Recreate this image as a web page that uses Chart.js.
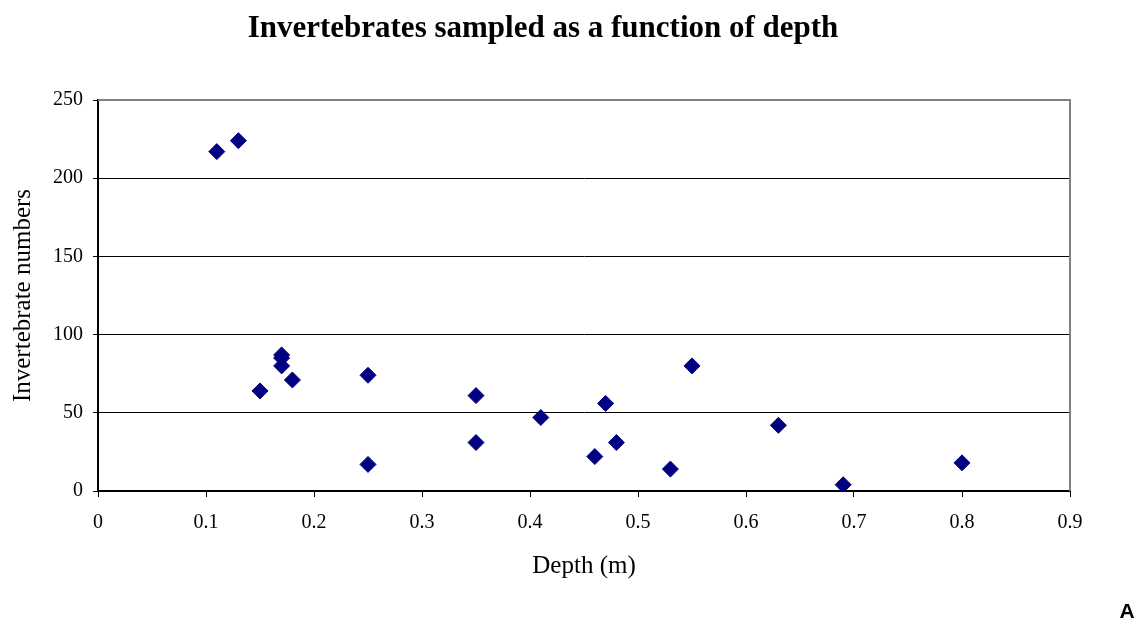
<!DOCTYPE html>
<html>
<head>
<meta charset="utf-8">
<script src="https://cdn.jsdelivr.net/npm/chart.js@4/dist/chart.umd.min.js"></script>
<style>
  html, body { margin: 0; padding: 0; background: #fff; }
  #wrap { width: 1144px; height: 630px; position: relative; }
</style>
</head>
<body>
<div id="wrap"><canvas id="c" width="1144" height="630"></canvas></div>
<script>
const chartTitle = "Invertebrates sampled as a function of depth";
const xAxisTitle = "Depth (m)";
const yAxisTitle = "Invertebrate numbers";
const cornerLabel = "A";
const depth = [0.11, 0.13, 0.15, 0.17, 0.17, 0.17, 0.18, 0.25, 0.25, 0.35, 0.35, 0.41, 0.46, 0.47, 0.48, 0.53, 0.55, 0.63, 0.69, 0.80];
const invertebrates = [217, 224, 64, 87, 85, 80, 71, 74, 17, 61, 31, 47, 22, 56, 31, 14, 80, 42, 4, 18];
const xTicks = [0, 0.1, 0.2, 0.3, 0.4, 0.5, 0.6, 0.7, 0.8, 0.9];
const yTicks = [0, 50, 100, 150, 200, 250];

const points = depth.map((d, i) => ({ x: d, y: invertebrates[i] }));

const extras = {
  id: 'extras',
  afterDraw(chart) {
    const ctx = chart.ctx;
    const a = chart.chartArea;
    ctx.save();
    // grey top and right border
    ctx.strokeStyle = '#808080';
    ctx.lineWidth = 2;
    ctx.beginPath();
    ctx.moveTo(a.left, a.top);
    ctx.lineTo(a.right, a.top);
    ctx.lineTo(a.right, a.bottom);
    ctx.stroke();
    // title
    ctx.fillStyle = '#000';
    ctx.font = 'bold 31px "Liberation Serif", "Times New Roman", serif';
    ctx.textAlign = 'center';
    ctx.textBaseline = 'alphabetic';
    ctx.fillText(chartTitle, 543, 37);
    // corner label
    ctx.font = 'bold 21px "Liberation Sans", Arial, sans-serif';
    ctx.fillText(cornerLabel, 1127, 618);
    ctx.restore();
  }
};

const serif = '"Liberation Serif", "Times New Roman", serif';

new Chart(document.getElementById('c'), {
  type: 'scatter',
  data: {
    datasets: [{
      data: points,
      pointStyle: 'rectRot',
      pointRadius: 8,
      pointHoverRadius: 8,
      backgroundColor: '#000080',
      borderColor: '#000080',
      borderWidth: 1
    }]
  },
  options: {
    responsive: false,
    animation: false,
    events: [],
    layout: { padding: { top: 100, right: 74, left: 0, bottom: 0 } },
    plugins: {
      legend: { display: false },
      title: { display: false },
      tooltip: { enabled: false }
    },
    scales: {
      x: {
        type: 'linear',
        min: 0, max: 0.9,
        afterBuildTicks(scale) { scale.ticks = xTicks.map(v => ({ value: v })); },
        afterFit(scale) { scale.height = 139; },
        ticks: {
          color: '#000',
          font: { family: serif, size: 20 },
          padding: 14,
          callback: v => String(Math.round(v * 10) / 10)
        },
        grid: { drawOnChartArea: false, drawTicks: true, tickLength: 6, color: '#000', lineWidth: 1 },
        border: { color: '#000', width: 2 },
        title: {
          display: true, text: xAxisTitle, color: '#000',
          font: { family: serif, size: 25 },
          padding: { top: 0, bottom: 49 }
        }
      },
      y: {
        type: 'linear',
        min: 0, max: 250,
        afterBuildTicks(scale) { scale.ticks = yTicks.map(v => ({ value: v })); },
        afterFit(scale) { scale.width = 98; },
        ticks: {
          color: '#000',
          font: { family: serif, size: 20 },
          padding: 10
        },
        grid: { color: '#000', lineWidth: 1, drawTicks: true, tickLength: 5 },
        border: { color: '#000', width: 2 },
        title: {
          display: true, text: yAxisTitle, color: '#000',
          font: { family: serif, size: 25 },
          padding: { top: 8, bottom: 0 }
        }
      }
    }
  },
  plugins: [extras]
});
</script>
</body>
</html>
